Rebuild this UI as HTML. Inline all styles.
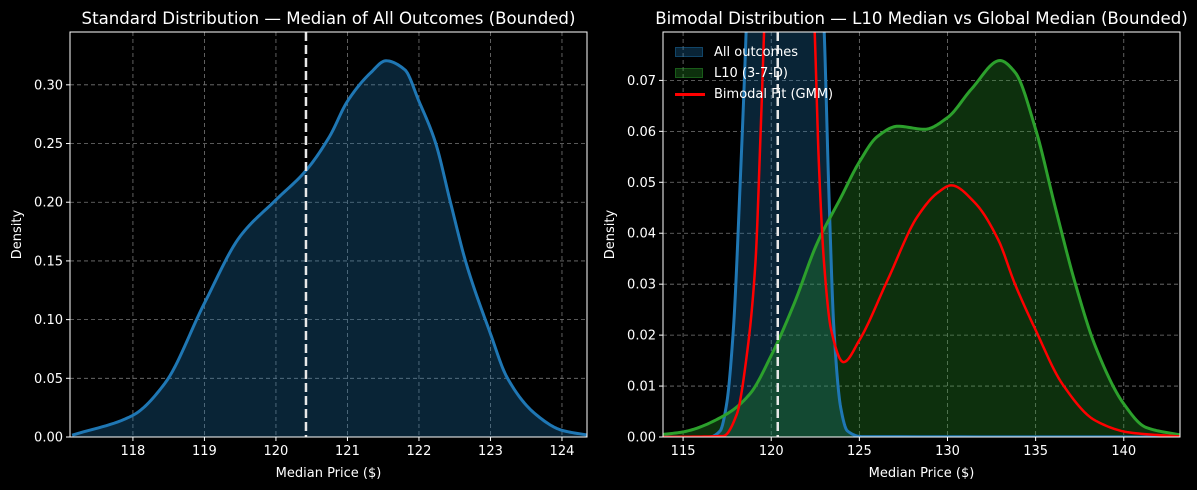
<!DOCTYPE html>
<html><head><meta charset="utf-8">
<style>
html,body{margin:0;padding:0;background:#000;}
svg{display:block;font-family:"DejaVu Sans","Liberation Sans",sans-serif;}
</style></head>
<body>
<svg id="chart" width="1197" height="490" viewBox="0 0 1197 490" xmlns="http://www.w3.org/2000/svg">
<rect width="1197" height="490" fill="#000"/>
<g id="left"></g>
<g id="right"></g>
</svg>
<script>
// ---- Left chart data ----
const leftX = [117.15,118,118.45,119,119.5,120,120.42,120.75,121,121.32,121.54,121.8,122,122.23,122.44,122.66,123,123.23,123.62,124,124.35];
const leftY = [0.0015,0.0185,0.046,0.114,0.171,0.202,0.227,0.256,0.286,0.31,0.3205,0.313,0.286,0.251,0.2,0.148,0.088,0.051,0.02,0.0057,0.0017];
const leftXTicks = [118,119,120,121,122,123,124];
const leftYTicks = [0,0.05,0.10,0.15,0.20,0.25,0.30];
const leftYTickLabels = ["0.00","0.05","0.10","0.15","0.20","0.25","0.30"];
const leftMedian = 120.42;

// ---- Right chart data ----
const allX = [113.86,116.5,117.1,117.47,117.85,118.24,118.58,119,120,121,122,122.6,123.0,123.28,123.56,123.94,124.32,125.1,143.19];
const allY = [0,0,0.0012,0.0065,0.021,0.05,0.08,0.13,0.19,0.2,0.16,0.11,0.08,0.047,0.021,0.0058,0.0012,0.0001,0];
const l10X = [113.86,115,117.47,118.8,120,121.28,122.6,123.95,125,126.03,127.18,128.7,130,131.36,132.98,133.83,135,136.12,137.26,138.4,140,141.25,143.19];
const l10Y = [0.0005,0.001,0.0045,0.0085,0.016,0.026,0.038,0.047,0.054,0.059,0.061,0.0604,0.0627,0.0683,0.0739,0.0716,0.0604,0.045,0.030,0.0177,0.0065,0.0019,0.0004];
const gmmX = [113.86,117.28,118.05,118.6,119.1,119.4,119.7,120.3,121,121.7,122.2,122.46,122.7,123.0,123.4,124.1,125,126.6,128.3,129.46,130.22,131.55,132.88,133.83,135,136.5,138.4,140.3,143.19];
const gmmY = [0,0.0002,0.0045,0.0157,0.034,0.06,0.09,0.14,0.16,0.14,0.1,0.08,0.054,0.034,0.021,0.0147,0.019,0.0308,0.0433,0.048,0.0494,0.046,0.0387,0.030,0.021,0.0105,0.0032,0.0009,0.0001];
const rightXTicks = [115,120,125,130,135,140];
const rightYTicks = [0,0.01,0.02,0.03,0.04,0.05,0.06,0.07];
const rightYTickLabels = ["0.00","0.01","0.02","0.03","0.04","0.05","0.06","0.07"];
const rightMedian = 120.37;

const NS = "http://www.w3.org/2000/svg";
function mk(tag, attrs, parent){
  const e = document.createElementNS(NS, tag);
  for (const k in attrs) e.setAttribute(k, attrs[k]);
  parent.appendChild(e);
  return e;
}
// monotone cubic (Fritsch-Carlson) interpolation, sampled densely
function curvePath(xs, ys, sx, sy){
  const n = xs.length;
  const dx = [], m = [];
  for (let i=0;i<n-1;i++){ dx.push(xs[i+1]-xs[i]); m.push((ys[i+1]-ys[i])/dx[i]); }
  const t = new Array(n);
  t[0]=m[0]; t[n-1]=m[n-2];
  for (let i=1;i<n-1;i++){
    if (m[i-1]*m[i] <= 0) t[i]=0;
    else { const w1=2*dx[i]+dx[i-1], w2=dx[i]+2*dx[i-1]; t[i]=(w1+w2)/(w1/m[i-1]+w2/m[i]); }
  }
  let d = "M" + sx(xs[0]).toFixed(2) + "," + sy(ys[0]).toFixed(2);
  for (let i=0;i<n-1;i++){
    const steps = 16, h = dx[i];
    for (let s=1;s<=steps;s++){
      const u = s/steps, u2=u*u, u3=u2*u;
      const y = (2*u3-3*u2+1)*ys[i] + (u3-2*u2+u)*h*t[i] + (-2*u3+3*u2)*ys[i+1] + (u3-u2)*h*t[i+1];
      d += " L" + sx(xs[i]+u*h).toFixed(2) + "," + sy(y).toFixed(2);
    }
  }
  return d;
}
function axes(g, cfg){
  const {x0,x1,y0,y1,xmin,xmax,ymin,ymax,id} = cfg;
  const sx = v => x0 + (v-xmin)/(xmax-xmin)*(x1-x0);
  const sy = v => y1 - (v-ymin)/(ymax-ymin)*(y1-y0);
  const defs = mk("defs",{},g);
  const cp = mk("clipPath",{id:"clip"+id},defs);
  mk("rect",{x:x0,y:y0,width:x1-x0,height:y1-y0},cp);
  const grid = mk("g",{},g);
  
  
  cfg.xticks.forEach(t=>{
    mk("line",{x1:sx(t),x2:sx(t),y1:y0,y2:y1,stroke:"#777","stroke-width":0.8,"stroke-dasharray":"4,3"},grid);
  });
  cfg.yticks.forEach(t=>{
    mk("line",{x1:x0,x2:x1,y1:sy(t),y2:sy(t),stroke:"#777","stroke-width":0.8,"stroke-dasharray":"4,3"},grid);
  });
  return {sx,sy,clip:"url(#clip"+id+")"};
}
function frame(g, cfg, sx, sy){
  const {x0,x1,y0,y1,id} = cfg;
  const fr = mk("rect",{x:x0,y:y0,width:x1-x0,height:y1-y0,fill:"none",stroke:"#fff","stroke-width":1},g);
  
  
  cfg.xticks.forEach(t=>{
    mk("line",{x1:sx(t),x2:sx(t),y1:y1,y2:y1+4,stroke:"#fff","stroke-width":1},g);
    const tx = mk("text",{x:sx(t),y:y1+18,fill:"#fff","font-size":"13px","text-anchor":"middle"},g);
    tx.textContent = t;
    
    
  });
  cfg.yticks.forEach((t,i)=>{
    mk("line",{x1:x0-4,x2:x0,y1:sy(t),y2:sy(t),stroke:"#fff","stroke-width":1},g);
    const ty = mk("text",{x:x0-7,y:sy(t)+4.5,fill:"#fff","font-size":"13px","text-anchor":"end"},g);
    ty.textContent = cfg.ylabels[i];
    
    
  });
  const xl = mk("text",{x:(x0+x1)/2,y:477,fill:"#fff","font-size":"13px","text-anchor":"middle"},g);
  xl.textContent = "Median Price ($)";
  
  
  const yl = mk("text",{x:0,y:0,fill:"#fff","font-size":"13px","text-anchor":"middle",transform:"translate("+(cfg.ylx)+","+((y0+y1)/2)+") rotate(-90)"},g);
  yl.textContent = "Density";
  
  
  const ti = mk("text",{x:(x0+x1)/2,y:24,fill:"#fff","font-size":"16.6px","text-anchor":"middle"},g);
  ti.textContent = cfg.title;
  
  
}

// Left panel
const gl = document.getElementById("left");
const cl = {id:"left",x0:70,x1:587,y0:32,y1:437,xmin:117.12,xmax:124.35,ymin:0,ymax:0.345,xticks:leftXTicks,yticks:leftYTicks,ylabels:leftYTickLabels,ylx:21,title:"Standard Distribution — Median of All Outcomes (Bounded)"};
const al = axes(gl, cl);
{
  const d = curvePath(leftX,leftY,al.sx,al.sy);
  const f = mk("path",{d:d+" L"+al.sx(leftX[leftX.length-1])+","+al.sy(0)+" L"+al.sx(leftX[0])+","+al.sy(0)+" Z",fill:"#1f77b4","fill-opacity":0.3,"clip-path":al.clip},gl);
  
  
  const l = mk("path",{d:d,fill:"none",stroke:"#1f77b4","stroke-width":3,"clip-path":al.clip},gl);
  
  
  const m = mk("line",{x1:al.sx(leftMedian),x2:al.sx(leftMedian),y1:32,y2:437,stroke:"#e8e8e8","stroke-width":2.5,"stroke-dasharray":"9,4"},gl);
  
  
}
frame(gl, cl, al.sx, al.sy);

// Right panel
const gr = document.getElementById("right");
const cr = {id:"right",x0:663,x1:1180,y0:32,y1:437,xmin:113.86,xmax:143.19,ymin:0,ymax:0.0795,xticks:rightXTicks,yticks:rightYTicks,ylabels:rightYTickLabels,ylx:614,title:"Bimodal Distribution — L10 Median vs Global Median (Bounded)"};
const ar = axes(gr, cr);
function series(xs, ys, color, name, fillOp){
  const d = curvePath(xs,ys,ar.sx,ar.sy);
  if (fillOp){
    const f = mk("path",{d:d+" L"+ar.sx(xs[xs.length-1])+","+ar.sy(0)+" L"+ar.sx(xs[0])+","+ar.sy(0)+" Z",fill:color,"fill-opacity":fillOp,"clip-path":ar.clip},gr);
    
    
  }
  return d;
}
const dAll = series(allX,allY,"#1f77b4","all-outcomes",0.3);
const dL10 = series(l10X,l10Y,"#2ca02c","l10",0.3);
const dGmm = series(gmmX,gmmY,"#ff0000","gmm",0);
{
  const a = mk("path",{d:dAll,fill:"none",stroke:"#1f77b4","stroke-width":3,"clip-path":ar.clip},gr);
  
  
  const b = mk("path",{d:dL10,fill:"none",stroke:"#2ca02c","stroke-width":3,"clip-path":ar.clip},gr);
  
  
  const c = mk("path",{d:dGmm,fill:"none",stroke:"#ff0000","stroke-width":2.5,"clip-path":ar.clip},gr);
  
  
  const m = mk("line",{x1:ar.sx(rightMedian),x2:ar.sx(rightMedian),y1:32,y2:437,stroke:"#e8e8e8","stroke-width":2.5,"stroke-dasharray":"9,4"},gr);
  
  
}
frame(gr, cr, ar.sx, ar.sy);
</script>
<div style="position:absolute;left:0;top:0;width:1197px;height:490px;pointer-events:none">
  <div style="position:absolute;left:675px;top:42px;font-family:'DejaVu Sans','Liberation Sans',sans-serif;font-size:13px;color:#fff;line-height:21px;">
    <div style="position:relative;height:21px;"><span style="position:absolute;left:0;top:5px;width:28px;height:10px;background:rgba(31,119,180,0.3);border:1px solid rgba(31,119,180,0.4);box-sizing:border-box"></span><span style="position:absolute;left:39px;top:0;white-space:nowrap">All outcomes</span></div>
    <div style="position:relative;height:21px;"><span style="position:absolute;left:0;top:5px;width:28px;height:10px;background:rgba(44,160,44,0.3);border:1px solid rgba(44,160,44,0.4);box-sizing:border-box"></span><span style="position:absolute;left:39px;top:0;white-space:nowrap">L10 (3-7-D)</span></div>
    <div style="position:relative;height:21px;"><span style="position:absolute;left:0;top:9px;width:30px;height:3px;background:#ff0000"></span><span style="position:absolute;left:39px;top:0;white-space:nowrap">Bimodal Fit (GMM)</span></div>
  </div>
</div>
</body></html>
